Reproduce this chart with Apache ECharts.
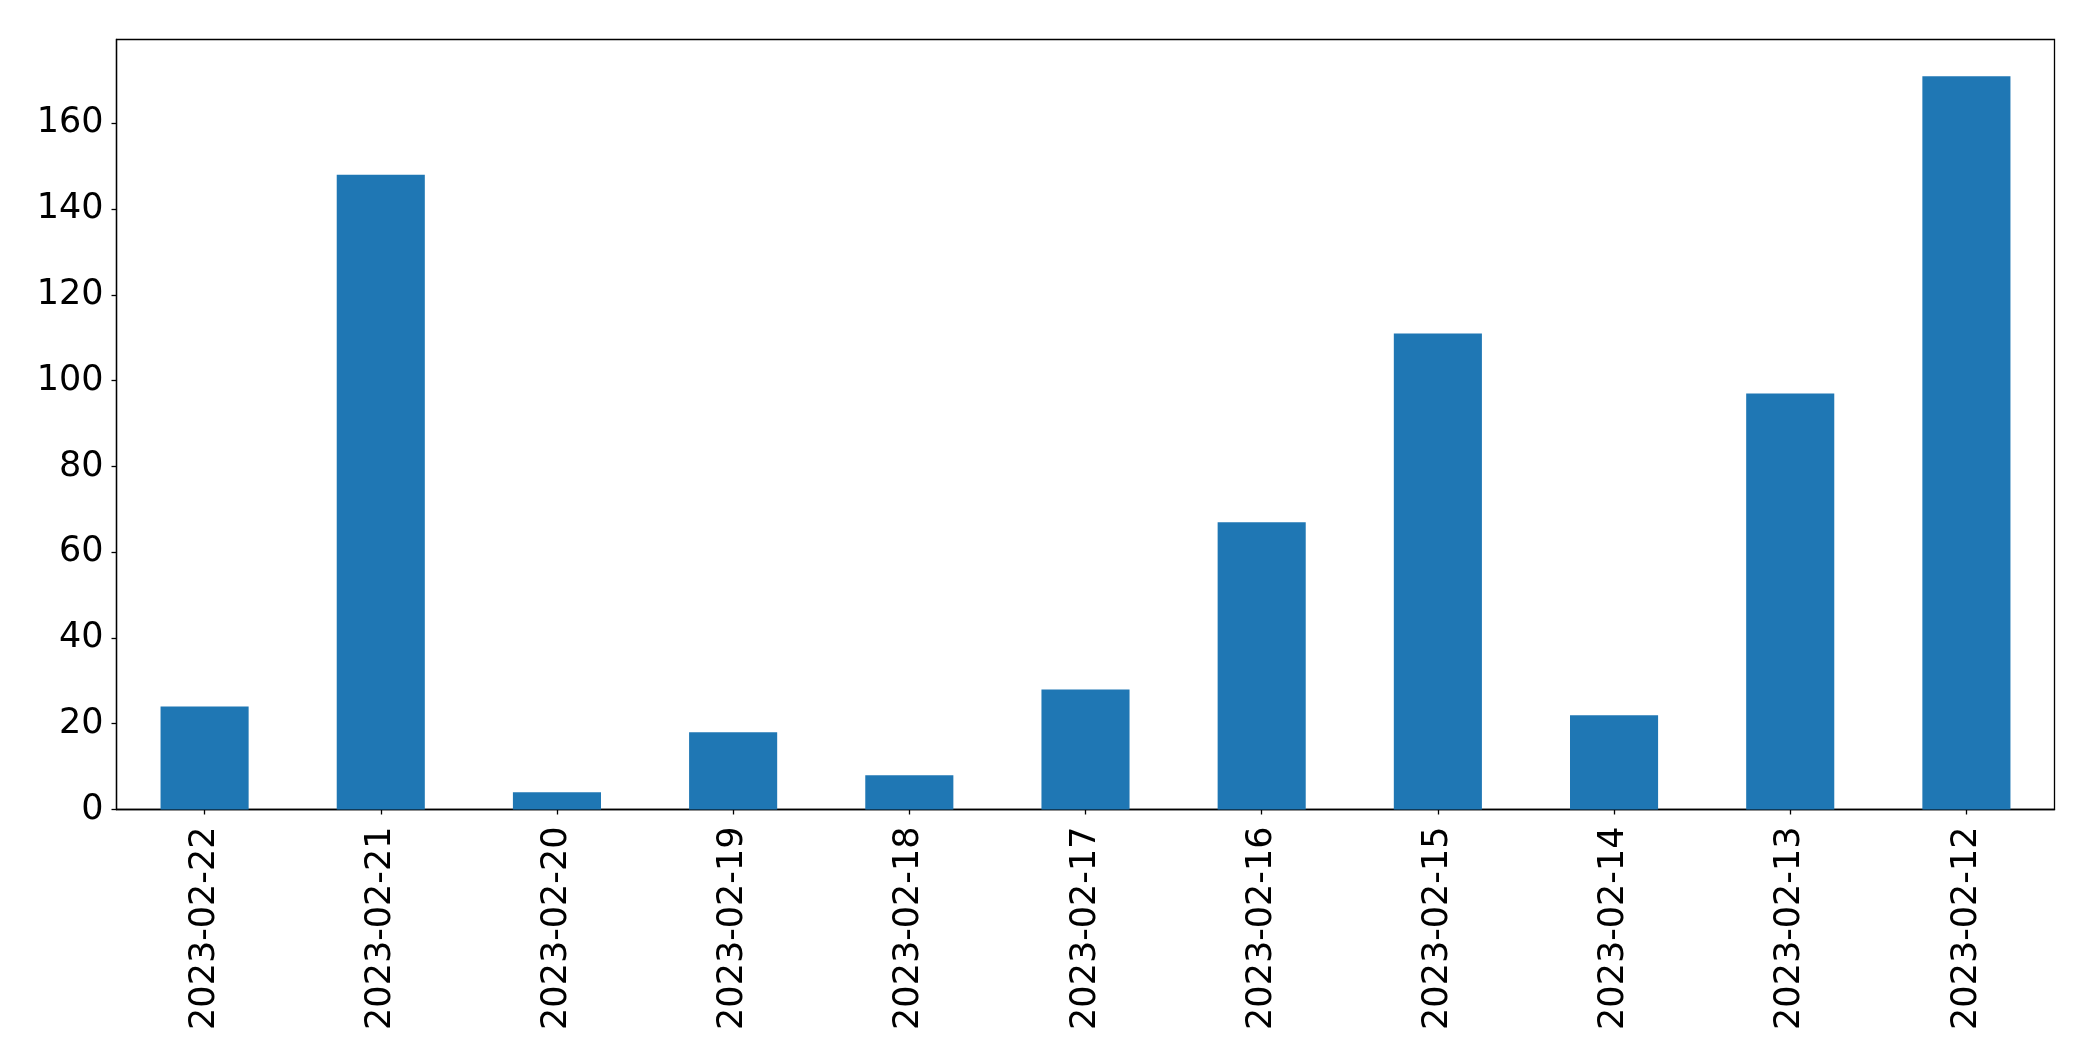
<!DOCTYPE html>
<html>
<head>
<meta charset="utf-8">
<script src="https://cdn.jsdelivr.net/npm/echarts@6/dist/echarts.min.js"></script>
<style>
  html, body { margin: 0; padding: 0; background: #fff; }
  #chart { width: 2093px; height: 1061px; }
</style>
</head>
<body>
<div id="chart"></div>
<script>
// dates, newest first (as in the picture)
var days = ['2023-02-22', '2023-02-21', '2023-02-20', '2023-02-19', '2023-02-18', '2023-02-17',
    '2023-02-16', '2023-02-15', '2023-02-14', '2023-02-13', '2023-02-12'];
var counts = [24, 148, 4, 18, 8, 28, 67, 111, 22, 97, 171];
var yTicks = [0, 20, 40, 60, 80, 100, 120, 140, 160];

var fontName = 'DejaVu Sans';
var topVal = Math.max.apply(null, counts) * 1.05; // matplotlib-style 5% headroom

var chart = echarts.init(document.getElementById('chart'));
var option = {
    animation: false,
    backgroundColor: '#fff',
    grid: {
        left: 116.5,
        right: 38.5,
        top: 39.5,
        bottom: 251.5,
        show: true,
        borderColor: '#000',
        borderWidth: 1.3,
        backgroundColor: 'transparent'
    },
    xAxis: {
        type: 'category',
        data: days,
        boundaryGap: true,
        axisLine: { show: true, lineStyle: { color: '#000', width: 1.3 } },
        axisTick: { show: true, alignWithLabel: true, length: 5, lineStyle: { color: '#000', width: 1.3 } },
        axisLabel: {
            rotate: 90,
            margin: 17,
            color: '#000',
            fontFamily: fontName,
            fontSize: 35
        },
        splitLine: { show: false }
    },
    yAxis: {
        type: 'value',
        min: 0,
        max: topVal,
        interval: 20,
        axisLine: { show: true, lineStyle: { color: '#000', width: 1.3 } },
        axisTick: { show: true, length: 5, lineStyle: { color: '#000', width: 1.3 } },
        axisLabel: {
            margin: 13,
            color: '#000',
            fontFamily: fontName,
            fontSize: 35,
            showMaxLabel: false,
            formatter: function (v) {
                return yTicks.indexOf(v) >= 0 ? String(v) : '';
            }
        },
        splitLine: { show: false }
    },
    series: [{
        type: 'bar',
        data: counts,
        barWidth: '50%',
        itemStyle: { color: '#1f77b4' }
    }]
};
chart.setOption(option);
</script>
</body>
</html>
